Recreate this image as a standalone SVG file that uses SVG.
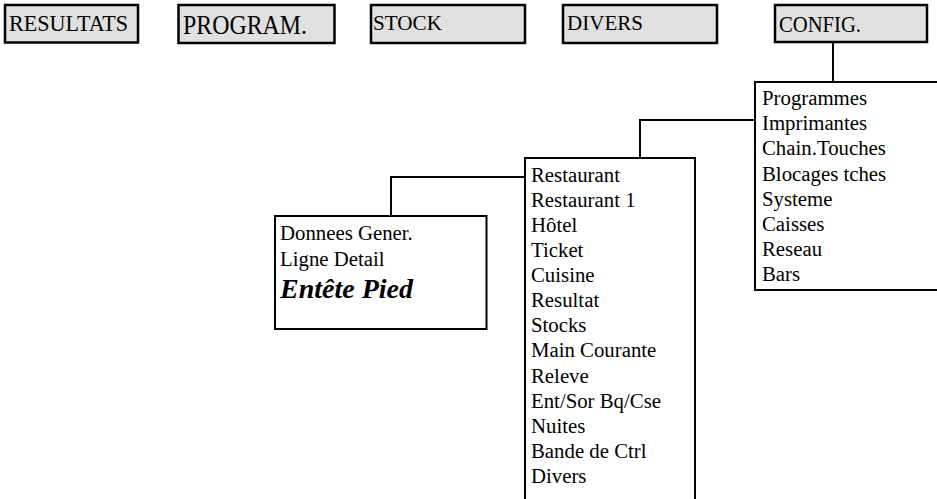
<svg xmlns="http://www.w3.org/2000/svg" width="937" height="499" viewBox="0 0 937 499">
<style>
.tab{fill:#e0e0e0;stroke:#000;stroke-width:2.5}
.box{fill:#fff;stroke:#000;stroke-width:2}
text{font-family:'Liberation Serif','Times New Roman','DejaVu Serif',serif;fill:#000}
.tt{font-size:22px}
.li{font-size:20.8px}
.big{font-size:28px;font-weight:bold;font-style:italic}
.con{fill:none;stroke:#000;stroke-width:2}
</style>
<rect width="937" height="499" fill="#fff"/>
<g id="connectors">
<polyline class="con" points="833,43 833,82"/>
<polyline class="con" points="755,120 640,120 640,158"/>
<polyline class="con" points="525,177 391,177 391,216"/>
</g>
<g id="tab-resultats">
<rect class="tab" x="5" y="5" width="133" height="37.5"/>
<text font-family="Liberation Serif, serif" x="9" y="31" textLength="119" lengthAdjust="spacingAndGlyphs" style="font-size:24px">RESULTATS</text>
</g>
<g id="tab-program">
<rect class="tab" x="178.5" y="5" width="156" height="38"/>
<text font-family="Liberation Serif, serif" x="183" y="34" textLength="124" lengthAdjust="spacingAndGlyphs" style="font-size:27px">PROGRAM.</text>
</g>
<g id="tab-stock">
<rect class="tab" x="371" y="5" width="154" height="38"/>
<text font-family="Liberation Serif, serif" class="tt" x="373" y="30" textLength="69" lengthAdjust="spacingAndGlyphs">STOCK</text>
</g>
<g id="tab-divers">
<rect class="tab" x="563" y="5" width="154" height="38"/>
<text font-family="Liberation Serif, serif" class="tt" x="567" y="30" textLength="76" lengthAdjust="spacingAndGlyphs">DIVERS</text>
</g>
<g id="tab-config">
<rect class="tab" x="775" y="5" width="152" height="37"/>
<text font-family="Liberation Serif, serif" x="779" y="31.5" textLength="82" lengthAdjust="spacingAndGlyphs" style="font-size:23px">CONFIG.</text>
</g>
<g id="config-list" font-family="Liberation Serif, serif">
<rect class="box" x="755" y="82" width="200" height="208"/>
<text class="li" x="762" y="105">Programmes</text>
<text class="li" x="762" y="130.2">Imprimantes</text>
<text class="li" x="762" y="155.4">Chain.Touches</text>
<text class="li" x="762" y="180.6">Blocages tches</text>
<text class="li" x="762" y="205.8">Systeme</text>
<text class="li" x="762" y="231">Caisses</text>
<text class="li" x="762" y="256.2">Reseau</text>
<text class="li" x="762" y="281.4">Bars</text>
</g>
<g id="programmes-list">
<rect class="box" x="525" y="158" width="170" height="360"/>
<text class="li" x="531" y="181.7">Restaurant</text>
<text class="li" x="531" y="206.8">Restaurant 1</text>
<text class="li" x="531" y="231.9">Hôtel</text>
<text class="li" x="531" y="257">Ticket</text>
<text class="li" x="531" y="282.1">Cuisine</text>
<text class="li" x="531" y="307.2">Resultat</text>
<text class="li" x="531" y="332.3">Stocks</text>
<text class="li" x="531" y="357.4">Main Courante</text>
<text class="li" x="531" y="382.5">Releve</text>
<text class="li" x="531" y="407.6">Ent/Sor Bq/Cse</text>
<text class="li" x="531" y="432.7">Nuites</text>
<text class="li" x="531" y="457.8">Bande de Ctrl</text>
<text class="li" x="531" y="482.9">Divers</text>
</g>
<g id="restaurant-list">
<rect class="box" x="275" y="216" width="211.5" height="113"/>
<text class="li" x="280" y="240">Donnees Gener.</text>
<text class="li" x="280" y="266">Ligne Detail</text>
<text class="big" x="280" y="298">Entête Pied</text>
</g>
</svg>
